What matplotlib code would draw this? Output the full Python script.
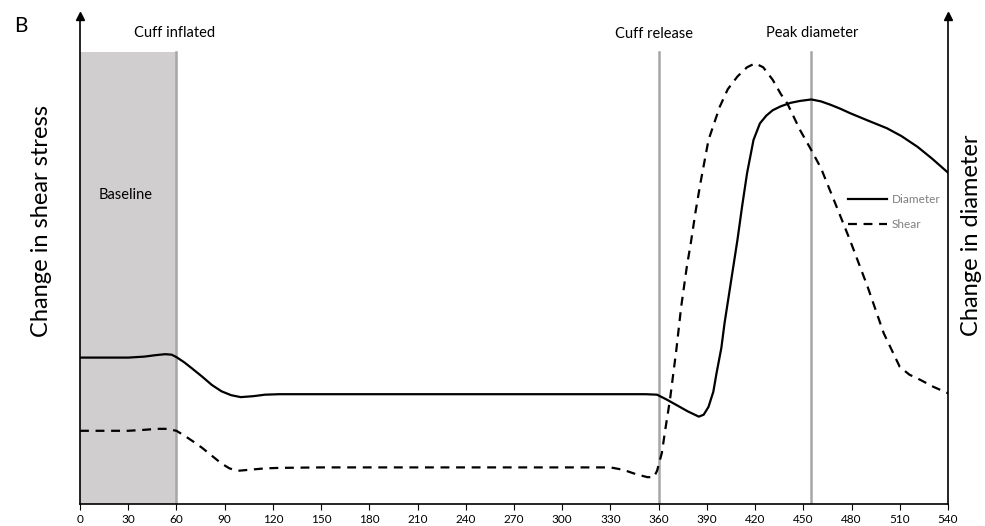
import matplotlib
matplotlib.use("Agg")
import matplotlib.pyplot as plt

plt.rcParams['font.family'] = ['Lato', 'DejaVu Sans']

# time (s) and relative change
diam_t = [0, 15, 30, 40, 47, 53, 57, 60, 65, 70, 76, 82, 88, 94, 100, 108, 115, 124,
          150, 200, 250, 300, 340, 352, 359, 365, 371, 378, 385, 388, 391, 394, 396,
          399, 401, 405, 409, 412, 415, 419, 423, 427, 431, 436, 442, 448, 455,
          461, 467, 473, 479, 490, 502, 511, 521, 530, 540]
diam_v = [30.0, 30.0, 30.0, 30.2, 30.5, 30.7, 30.6, 30.1, 29.0, 27.7, 26.1, 24.4, 23.1,
          22.3, 21.9, 22.1, 22.4, 22.5,
          22.5, 22.5, 22.5, 22.5, 22.5, 22.5, 22.4, 21.4, 20.3, 19.0, 17.9, 18.3, 19.9, 23.0, 26.8,
          32.0, 37.1, 45.6, 54.1, 61.2, 67.8, 74.6, 78.0, 79.6, 80.7, 81.5, 82.2, 82.6, 82.9,
          82.5, 81.8, 81.0, 80.1, 78.6, 77.0, 75.4, 73.2, 70.8, 67.9]

shear_t = [0, 15, 30, 40, 48, 54, 60, 65, 70, 76, 82, 88, 93, 98, 105, 115, 124,
           150, 200, 250, 300, 330, 338, 346, 353, 357, 359, 362, 364, 367, 371, 374,
           377.5, 380, 383, 386, 391, 398, 403, 409, 415, 420, 425, 431, 436, 440, 448,
           455, 461, 469, 479, 490, 500, 510, 516, 523, 531, 540]
shear_v = [15.0, 15.0, 15.0, 15.2, 15.4, 15.4, 15.0, 14.0, 12.9, 11.5, 9.9, 8.3, 7.3, 6.8,
           7.0, 7.3, 7.4,
           7.5, 7.5, 7.5, 7.5, 7.5, 7.0, 6.1, 5.5, 5.5, 6.8, 10.5, 15.0, 21.3, 31.6, 40.4,
           48.6, 53.5, 60.0, 65.8, 74.6, 81.4, 85.0, 87.6, 89.5, 90.3, 89.5, 86.9, 84.0, 82.1, 76.6,
           72.5, 68.8, 62.3, 54.1, 44.5, 35.0, 28.1, 26.5, 25.4, 24.0, 22.7]

ticks = list(range(0, 541, 30))
cuff_on = 60
cuff_off = 360
peak_t = 455
top_band = 92.7

fig = plt.figure(figsize=(9.85, 5.26), dpi=100)
ax = fig.add_axes([80 / 985, 22 / 526, 868 / 985, 488 / 526])
ax.set_xlim(0, 540)
ax.set_ylim(0, 100)

# baseline period and event markers
ax.fill_between([0, cuff_on], 0, top_band, color='#d0cece', lw=0, zorder=0)
for t in (cuff_on, cuff_off, peak_t):
    ax.plot([t, t], [0, top_band], color='#a6a6a6', lw=1.8, zorder=1)

ax.plot(diam_t, diam_v, color='black', lw=1.6, label='Diameter', zorder=3)
ax.plot(shear_t, shear_v, color='black', lw=1.6, ls=(0, (4, 3)), label='Shear', zorder=3)

ax.text(59, 96.5, 'Cuff inflated', ha='center', va='center', fontsize=10.5)
ax.text(357, 96.3, 'Cuff release', ha='center', va='center', fontsize=10.5)
ax.text(455.5, 96.5, 'Peak diameter', ha='center', va='center', fontsize=10.5)
ax.text(28.6, 63.3, 'Baseline', ha='center', va='center', fontsize=10.5)
fig.text(14 / 985, 1 - 26 / 526, 'B', ha='left', va='center', fontsize=15)

leg = ax.legend(loc='upper left', bbox_to_anchor=(0.885, 0.636), frameon=False,
                fontsize=8.5, labelcolor='#7f7f7f', handlelength=3.3,
                handletextpad=0.4, labelspacing=1.2, borderpad=0, borderaxespad=0)

ax.spines['top'].set_visible(False)
for side in ('left', 'right', 'bottom'):
    ax.spines[side].set_linewidth(1.2)
ax.set_xticks(ticks)
ax.tick_params(axis='x', direction='out', length=4, labelsize=8.5, pad=3)
ax.set_yticks([])
ax.plot([0, 1], [1, 1], ls='none', marker='^', ms=6, color='black',
        transform=ax.transAxes, clip_on=False)

fig.text(42 / 985, 1 - 221 / 526, 'Change in shear stress', rotation=90,
         ha='center', va='center', fontsize=17)
fig.text(972 / 985, 1 - 235 / 526, 'Change in diameter', rotation=90,
         ha='center', va='center', fontsize=17)

fig.savefig('out.png', dpi=100)
